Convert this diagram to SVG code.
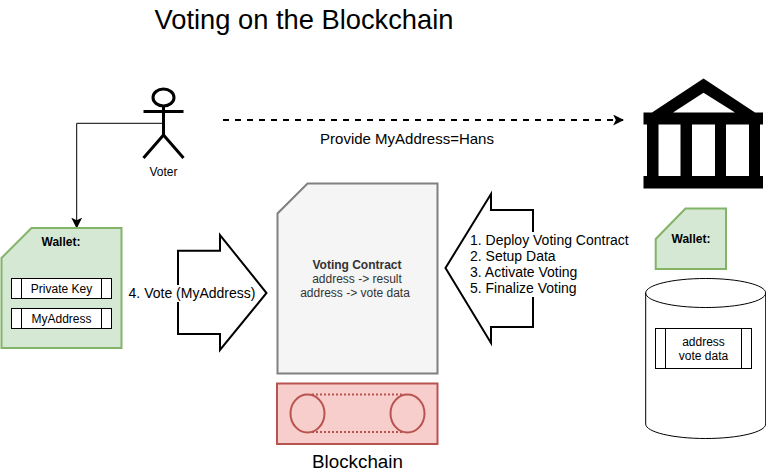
<svg xmlns="http://www.w3.org/2000/svg" width="766" height="473" viewBox="0 0 766 473">
<style>
text{font-family:"Liberation Sans",Arial,sans-serif;fill:#000;font-size:12px}
.m{text-anchor:middle}
.b{font-weight:bold}
.s{fill:#fff;stroke:#000;stroke-width:1}
.g{fill:#d5e8d4;stroke:#82b366;stroke-width:2}
.arrow{fill:#fff;stroke:#000;stroke-width:2}
.l14{font-size:14px}
.d{fill:#333}
</style>
<defs>
<marker id="ah" viewBox="0 0 10 10" refX="9" refY="5" markerWidth="11" markerHeight="11" markerUnits="userSpaceOnUse" orient="auto"><path d="M0 0L10 5L0 10L2.500 5Z" fill="#000"/></marker>
</defs>
<rect width="766" height="473" fill="#fff"/>
<text id="title" x="304" y="29" class="m" style="font-size:27.300px">Voting on the Blockchain</text>
<g id="connectors" fill="none" stroke="#000">
<path d="M163.500 123.300H76.700V227.500" stroke-width="1" marker-end="url(#ah)"/>
<path d="M223 120H623" stroke-width="2" stroke-dasharray="6 6" marker-end="url(#ah)"/>
</g>
<g id="voter" fill="none" stroke="#000" stroke-width="3">
<ellipse cx="163.500" cy="97.500" rx="10.500" ry="8.500"/>
<path d="M163.500 106V135M143.500 111.500H183.500M163.500 135L143.500 158M163.500 135L183.500 158"/>
<text x="163.500" y="175.500" class="m" stroke="none">Voter</text>
</g>
<g id="wallet-left">
<path class="g" d="M31.500 228H121.500V348H1.500V258Z"/>
<text x="61" y="246" class="m b">Wallet:</text>
<g id="private-key"><rect class="s" x="11.500" y="278.500" width="100" height="20"/><path class="s" d="M21.500 278.500V298.500M101.500 278.500V298.500"/><text x="61.500" y="293" class="m">Private Key</text></g>
<g id="my-address"><rect class="s" x="11.500" y="308.500" width="100" height="20"/><path class="s" d="M21.500 308.500V328.500M101.500 308.500V328.500"/><text x="61.500" y="323" class="m">MyAddress</text></g>
</g>
<g id="vote-arrow">
<path class="arrow" d="M178 250.700H220V235L266.500 293L220 350V334H178Z"/>
<rect x="127" y="285" width="130" height="17" fill="#fff"/>
<text x="192" y="298" class="m l14">4. Vote (MyAddress)</text>
</g>
<g id="contract">
<path d="M307.500 183.500H437.500V373.500H277.500V213.500Z" fill="#f5f5f5" stroke="#808080" stroke-width="2"/>
<text x="357" y="268.500" class="m b d">Voting Contract</text>
<text x="357" y="282.500" class="m d">address -&gt; result</text>
<text x="355" y="296.500" class="m d">address -&gt; vote data</text>
</g>
<g id="deploy-arrow">
<path class="arrow" d="M533 210H491V194L445.500 268L491 343V327H533Z"/>
<rect x="469" y="232" width="161" height="65" fill="#fff"/>
<text x="470" y="245" class="l14">1. Deploy Voting Contract</text>
<text x="470" y="261" class="l14">2. Setup Data</text>
<text x="470" y="277" class="l14">3. Activate Voting</text>
<text x="470" y="293" class="l14">5. Finalize Voting</text>
</g>
<g id="blockchain">
<rect x="277" y="383.500" width="160.500" height="60.500" fill="#f8cecc" stroke="#b85450" stroke-width="2"/>
<path d="M312 394.500H402M312 432H402" fill="none" stroke="#b85450" stroke-width="2" stroke-dasharray="2 2"/>
<ellipse cx="307.500" cy="413.500" rx="17" ry="19" fill="#f8cecc" stroke="#b85450" stroke-width="2"/>
<ellipse cx="407.500" cy="413.500" rx="17" ry="19" fill="#f8cecc" stroke="#b85450" stroke-width="2"/>
<text x="357.500" y="468" class="m" style="font-size:18.800px">Blockchain</text>
</g>
<g id="bank">
<path fill="#000" fill-rule="evenodd" d="M703.500 78.500L755 112.500H763V124.500H760V176H763V188.500H643.500V176H647V124.500H643.500V112.500H652ZM703.500 92.700L673 112.500H735ZM658.500 124.500V176H680.500V124.500ZM692 124.500V176H715V124.500ZM726 124.500V176H749V124.500Z"/>
</g>
<g id="wallet-right">
<path class="g" d="M685.500 208.500H726V269H655.700V239Z"/>
<text x="691" y="243" class="m b">Wallet:</text>
</g>
<g id="database">
<path d="M645.700 293C645.700 285 672 278.500 705.700 278.500S765.700 285 765.700 293V424C765.700 432 739 438.500 705.700 438.500S645.700 432 645.700 424Z" fill="#fff" stroke="#000"/>
<path d="M645.700 293C645.700 301 672 307.500 705.700 307.500S765.700 301 765.700 293" fill="none" stroke="#000"/>
<rect class="s" x="655.500" y="328.500" width="96" height="40"/>
<path class="s" d="M665.500 328.500V368.500M741.500 328.500V368.500"/>
<text x="703.500" y="346" class="m">address</text>
<text x="703.500" y="360" class="m">vote data</text>
</g>
<text id="provide-label" x="407" y="144" class="m" style="font-size:15px">Provide MyAddress=Hans</text>
</svg>
